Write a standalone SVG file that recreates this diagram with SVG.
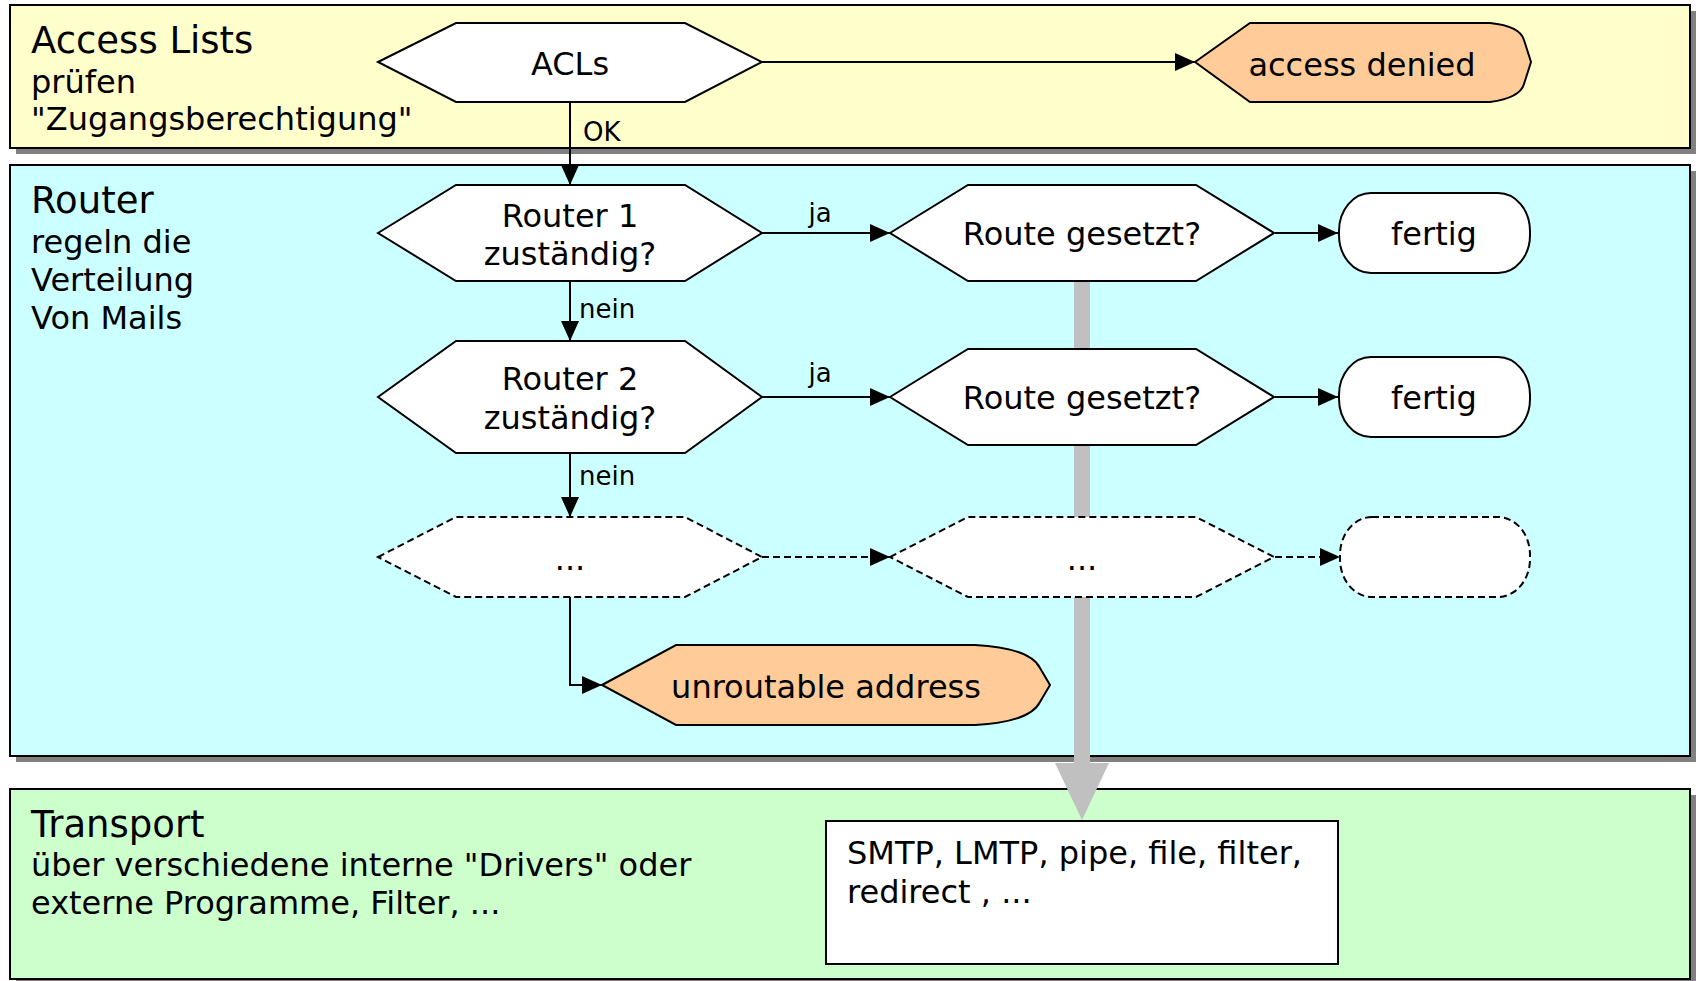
<svg xmlns="http://www.w3.org/2000/svg" width="1698" height="981" viewBox="0 0 1698 981">
<style>
text{font-family:"DejaVu Sans",Verdana,sans-serif;fill:#000}
.title{font-size:37px}
.sub{font-size:32px}
.lbl{font-size:32px;text-anchor:middle}
.edge{font-size:26px}
.panel{stroke:#000;stroke-width:2}
.shadow{fill:#808080}
.node{fill:#fff;stroke:#000;stroke-width:2}
.end{fill:#FFCC99;stroke:#000;stroke-width:2}
.dash{fill:#fff;stroke:#000;stroke-width:2;stroke-dasharray:7 4}
.conn{fill:none;stroke:#000;stroke-width:2}
.conn.d{stroke-dasharray:7 4}
</style>
<defs>
<marker id="arr" viewBox="0 0 20 18" refX="20" refY="9" markerWidth="20" markerHeight="18" markerUnits="userSpaceOnUse" orient="auto">
<path d="M0,0 L20,9 L0,18 z" fill="#000"/>
</marker>
</defs>
<rect width="1698" height="981" fill="#fff"/>
<g id="panel-access">
<rect class="shadow" x="16" y="11" width="1680" height="143"/>
<rect class="panel" x="10" y="5" width="1680" height="143" fill="#FFFFCC"/>
<text class="title" x="31" y="53">Access Lists</text>
<text class="sub" x="31" y="93">prüfen</text>
<text class="sub" x="31" y="130">"Zugangsberechtigung"</text>
</g>
<g id="panel-router">
<rect class="shadow" x="16" y="171" width="1680" height="591"/>
<rect class="panel" x="10" y="165" width="1680" height="591" fill="#CCFFFF"/>
<text class="title" x="31" y="213">Router</text>
<text class="sub" x="31" y="253">regeln die</text>
<text class="sub" x="31" y="291">Verteilung</text>
<text class="sub" x="31" y="329">Von Mails</text>
</g>
<g id="panel-transport">
<rect class="shadow" x="16" y="795" width="1680" height="190"/>
<rect class="panel" x="10" y="789" width="1680" height="190" fill="#CCFFCC"/>
<text class="title" x="31" y="837">Transport</text>
<text class="sub" x="31" y="876">über verschiedene interne "Drivers" oder</text>
<text class="sub" x="31" y="914">externe Programme, Filter, ...</text>
</g>
<g id="transport-flow">
<rect x="1074" y="281" width="16" height="484" fill="#C0C0C0"/>
<polygon points="1055,763 1109,763 1082,820" fill="#C0C0C0"/>
</g>
<g id="connectors">
<path class="conn" d="M762,62 H1195" marker-end="url(#arr)"/>
<path class="conn" d="M570,102 V185" marker-end="url(#arr)"/>
<text class="edge" x="583" y="141">OK</text>
<path class="conn" d="M762,233 H890" marker-end="url(#arr)"/>
<text class="edge" x="820" y="222" text-anchor="middle">ja</text>
<path class="conn" d="M1275,233 H1338" marker-end="url(#arr)"/>
<path class="conn" d="M570,281 V341" marker-end="url(#arr)"/>
<text class="edge" x="579" y="318">nein</text>
<path class="conn" d="M762,397 H890" marker-end="url(#arr)"/>
<text class="edge" x="820" y="382" text-anchor="middle">ja</text>
<path class="conn" d="M1275,397 H1338" marker-end="url(#arr)"/>
<path class="conn" d="M570,453 V517" marker-end="url(#arr)"/>
<text class="edge" x="579" y="485">nein</text>
<path class="conn d" d="M762,557 H890" marker-end="url(#arr)"/>
<path class="conn d" d="M1275,557 H1340" marker-end="url(#arr)"/>
<path class="conn" d="M570,597 V685 H602" marker-end="url(#arr)"/>
</g>
<g id="acls">
<polygon class="node" points="378,62 456,23 685,23 762,62 685,102 456,102"/>
<text class="lbl" x="570" y="75">ACLs</text>
</g>
<g id="access-denied">
<path class="end" d="M1195,62 L1250,23 H1490 Q1520,26 1524,40 L1531,62 L1524,84 Q1520,98 1490,102 H1250 Z"/>
<text class="lbl" x="1362" y="76">access denied</text>
</g>
<g id="router1">
<polygon class="node" points="378,233 456,185 685,185 762,233 685,281 456,281"/>
<text class="lbl" x="570" y="227">Router 1</text>
<text class="lbl" x="570" y="265">zuständig?</text>
</g>
<g id="route1">
<polygon class="node" points="890,233 968,185 1196,185 1274,233 1196,281 968,281"/>
<text class="lbl" x="1082" y="245">Route gesetzt?</text>
</g>
<g id="fertig1">
<rect class="node" x="1339" y="193" width="191" height="80" rx="32" ry="38"/>
<text class="lbl" x="1434" y="245">fertig</text>
</g>
<g id="router2">
<polygon class="node" points="378,397 456,341 685,341 762,397 685,453 456,453"/>
<text class="lbl" x="570" y="390">Router 2</text>
<text class="lbl" x="570" y="429">zuständig?</text>
</g>
<g id="route2">
<polygon class="node" points="890,397 968,349 1196,349 1274,397 1196,445 968,445"/>
<text class="lbl" x="1082" y="409">Route gesetzt?</text>
</g>
<g id="fertig2">
<rect class="node" x="1339" y="357" width="191" height="80" rx="32" ry="38"/>
<text class="lbl" x="1434" y="409">fertig</text>
</g>
<g id="dots1">
<polygon class="dash" points="378,557 456,517 685,517 762,557 685,597 456,597"/>
<text class="lbl" x="570" y="570">...</text>
</g>
<g id="dots2">
<polygon class="dash" points="890,557 968,517 1196,517 1274,557 1196,597 968,597"/>
<text class="lbl" x="1082" y="570">...</text>
</g>
<g id="dots3">
<rect class="dash" x="1340" y="517" width="190" height="80" rx="32" ry="38"/>
</g>
<g id="unroutable">
<path class="end" d="M602,685 L676,645 H975 Q1030,648 1040,668 L1050,685 L1040,702 Q1030,722 975,725 H676 Z"/>
<text class="lbl" x="826" y="698">unroutable address</text>
</g>
<g id="drivers">
<rect x="826" y="821" width="512" height="143" fill="#fff" stroke="#000" stroke-width="2"/>
<text class="sub" x="847" y="864">SMTP, LMTP, pipe, file, filter,</text>
<text class="sub" x="847" y="903">redirect , ...</text>
</g>
</svg>
